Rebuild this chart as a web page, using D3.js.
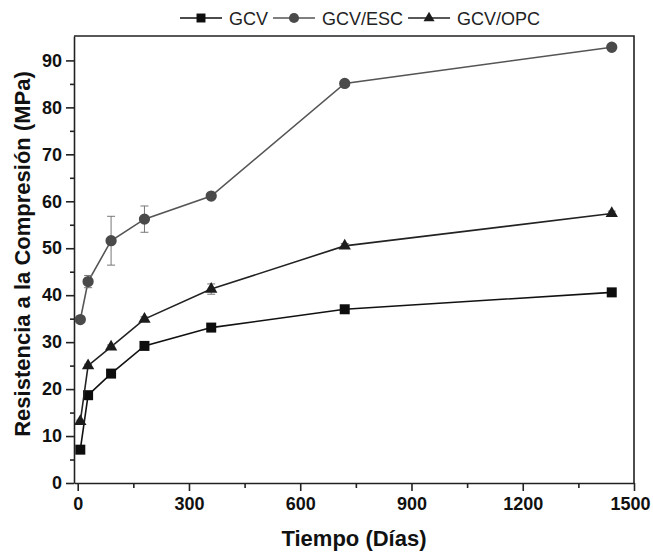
<!DOCTYPE html>
<html>
<head>
<meta charset="utf-8">
<script src="https://cdn.jsdelivr.net/npm/d3@7"></script>
<style>
  html, body { margin: 0; padding: 0; background: #fff; }
  svg { display: block; }
</style>
</head>
<body>
<div id="chart"></div>
<script>
// Data
const days = [7, 28, 90, 180, 360, 720, 1440];
const seriesNames = ["GCV", "GCV/ESC", "GCV/OPC"];
const gcv = [7.1, 18.7, 23.3, 29.2, 33.1, 37.0, 40.6];
const gcvEsc = [34.8, 42.9, 51.6, 56.2, 61.1, 85.1, 92.8];
const gcvOpc = [13.1, 25.0, 29.0, 34.9, 41.3, 50.5, 57.4];
const gcvErr = [0.3, 0.4, 0.4, 0.4, 0.3, 0.3, 0.3];
const gcvEscErr = [0.4, 1.3, 5.2, 2.8, 0.5, 0.5, 0.4];
const gcvOpcErr = [0.3, 0.3, 0.4, 0.5, 1.1, 0.5, 0.5];
const xTicks = [0, 300, 600, 900, 1200, 1500];
const xMinorTicks = [150, 450, 750, 1050, 1350];
const yTicks = [0, 10, 20, 30, 40, 50, 60, 70, 80, 90];
const yMinorTicks = [5, 15, 25, 35, 45, 55, 65, 75, 85];

const width = 653, height = 552;
const margin = { top: 36, right: 19, bottom: 69, left: 74 };
const innerW = width - margin.left - margin.right;
const innerH = height - margin.top - margin.bottom;

const styles = {
  "GCV": { symbol: d3.symbolSquare, size: 100, fill: "#0d0d0d", line: "#111" },
  "GCV/ESC": { symbol: d3.symbolCircle, size: 100, fill: "#4a4a4a", line: "#555" },
  "GCV/OPC": { symbol: d3.symbolTriangle, size: 66, fill: "#1c1c1c", line: "#222" }
};

const series = [
  { name: seriesNames[0], values: gcv, err: gcvErr },
  { name: seriesNames[1], values: gcvEsc, err: gcvEscErr },
  { name: seriesNames[2], values: gcvOpc, err: gcvOpcErr }
].map((s) => ({
  name: s.name,
  points: days.map((d, i) => ({ x: d, y: s.values[i], e: s.err[i] }))
}));

const svg = d3.select("#chart")
  .append("svg")
  .attr("width", width)
  .attr("height", height)
  .attr("font-family", "'Liberation Sans', Arial, sans-serif");

const x = d3.scaleLinear().domain([-10, 1500]).range([0, innerW]);
const y = d3.scaleLinear().domain([0, 95.2]).range([innerH, 0]);

const g = svg.append("g")
  .attr("transform", `translate(${margin.left},${margin.top})`);

// Frame (top and right sides)
g.append("path")
  .attr("d", `M0,0H${innerW}V${innerH}`)
  .attr("fill", "none")
  .attr("stroke", "#222")
  .attr("stroke-width", 1.6);

// Axes
const xAxis = g.append("g")
  .attr("transform", `translate(0,${innerH})`)
  .call(d3.axisBottom(x).tickValues(xTicks).tickFormat(d3.format("d"))
    .tickSize(8).tickSizeOuter(0).tickPadding(6));
g.append("g")
  .attr("transform", `translate(0,${innerH})`)
  .call(d3.axisBottom(x).tickValues(xMinorTicks).tickSize(5).tickFormat(""))
  .call((a) => a.select(".domain").remove());

const yAxis = g.append("g")
  .call(d3.axisLeft(y).tickValues(yTicks).tickSize(8).tickSizeOuter(0).tickPadding(4));
g.append("g")
  .call(d3.axisLeft(y).tickValues(yMinorTicks).tickSize(4).tickFormat(""))
  .call((a) => a.select(".domain").remove());

g.selectAll(".domain, .tick line")
  .attr("stroke", "#222")
  .attr("stroke-width", 1.6);

[xAxis, yAxis].forEach((a) => {
  a.selectAll("text")
    .attr("font-family", "'Liberation Sans', Arial, sans-serif")
    .attr("font-size", 18)
    .attr("font-weight", "bold")
    .attr("fill", "#111");
});

// last x label sits against the page edge, nudge it in
xAxis.selectAll(".tick text")
  .filter((d) => d === 1500)
  .attr("dx", -4);

// Axis titles
svg.append("text")
  .attr("x", margin.left + innerW / 2)
  .attr("y", 546)
  .attr("text-anchor", "middle")
  .attr("font-size", 22)
  .attr("font-weight", "bold")
  .attr("fill", "#111")
  .text("Tiempo (Días)");

svg.append("text")
  .attr("transform", `translate(30,${254}) rotate(-90)`)
  .attr("text-anchor", "middle")
  .attr("font-size", 22)
  .attr("font-weight", "bold")
  .attr("fill", "#111")
  .text("Resistencia a la Compresión (MPa)");

// Lines
const line = d3.line().x((d) => x(d.x)).y((d) => y(d.y));

series.forEach((s) => {
  const st = styles[s.name];
  const sg = g.append("g").attr("class", "series");

  sg.append("path")
    .datum(s.points)
    .attr("d", line)
    .attr("fill", "none")
    .attr("stroke", st.line)
    .attr("stroke-width", 1.6);

  // Error bars
  const eb = sg.selectAll(".err")
    .data(s.points)
    .enter()
    .append("g")
    .attr("class", "err")
    .attr("stroke", "#777")
    .attr("stroke-width", 1);
  eb.append("line")
    .attr("x1", (d) => x(d.x)).attr("x2", (d) => x(d.x))
    .attr("y1", (d) => y(d.y - d.e)).attr("y2", (d) => y(d.y + d.e));
  eb.append("line")
    .attr("x1", (d) => x(d.x) - 4).attr("x2", (d) => x(d.x) + 4)
    .attr("y1", (d) => y(d.y + d.e)).attr("y2", (d) => y(d.y + d.e));
  eb.append("line")
    .attr("x1", (d) => x(d.x) - 4).attr("x2", (d) => x(d.x) + 4)
    .attr("y1", (d) => y(d.y - d.e)).attr("y2", (d) => y(d.y - d.e));

  // Markers
  sg.selectAll(".marker")
    .data(s.points)
    .enter()
    .append("path")
    .attr("class", "marker")
    .attr("d", d3.symbol().type(st.symbol).size(st.size))
    .attr("transform", (d) => `translate(${x(d.x)},${y(d.y)})`)
    .attr("fill", st.fill);
});

// Legend at top
const legend = svg.append("g").attr("transform", "translate(180,18)");
let lx = 0;
seriesNames.forEach((name) => {
  const st = styles[name];
  const item = legend.append("g").attr("transform", `translate(${lx},0)`);
  item.append("line")
    .attr("x1", 0).attr("x2", 42)
    .attr("y1", 0).attr("y2", 0)
    .attr("stroke", st.line)
    .attr("stroke-width", 1.6);
  item.append("path")
    .attr("d", d3.symbol().type(st.symbol).size(st.size * 0.8))
    .attr("transform", "translate(21,0)")
    .attr("fill", st.fill);
  const t = item.append("text")
    .attr("x", 49)
    .attr("y", 6.5)
    .attr("font-size", 18)
    .attr("fill", "#222")
    .text(name);
  lx += 49 + t.node().getComputedTextLength() + 5;
});
</script>
</body>
</html>
